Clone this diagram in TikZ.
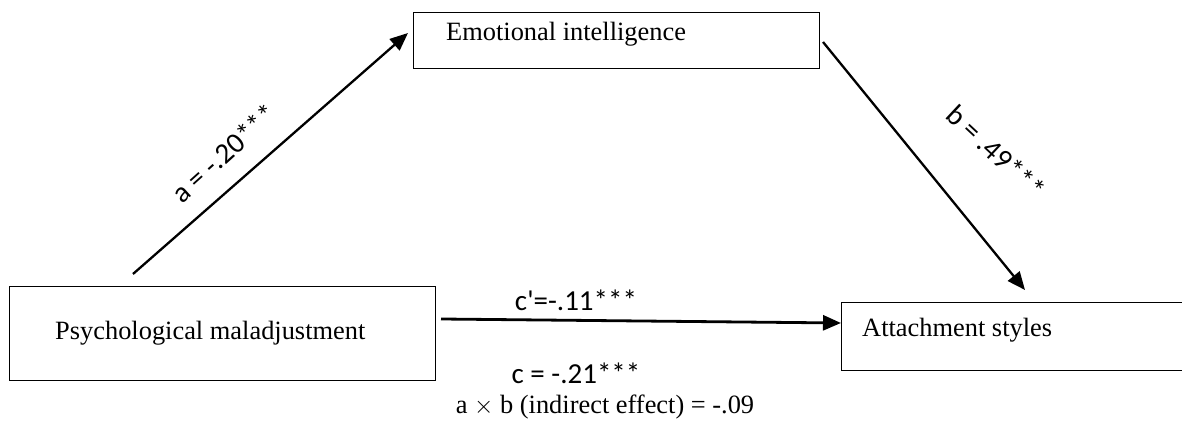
\documentclass[tikz,border=0pt]{standalone}
\usepackage{fontspec}
\setmainfont{Liberation Serif}
\newfontfamily\calfont{Carlito}
\usetikzlibrary{arrows.meta}
\begin{document}
\begin{tikzpicture}[x=1pt,y=1pt,
  boxstyle/.style={draw, line width=1.3pt, rectangle, inner sep=0pt},
  boxtext/.style={anchor=base west, inner sep=0pt, font=\fontsize{26.4}{30}\selectfont},
  pathlabel/.style={inner sep=0pt, font=\calfont\fontsize{29}{33}\selectfont},
  conn/.style={line width=2.3pt, -{Triangle[length=18pt,width=15pt]}}
]
\useasboundingbox (0,0) rectangle (1182,422);
% boxes
\node[boxstyle, minimum width=406pt, minimum height=56pt, anchor=north west] (ei) at (413,410) {};
\node[boxstyle, minimum width=426pt, minimum height=94pt, anchor=north west] (pm) at (9,136) {};
\node[boxstyle, minimum width=360pt, minimum height=68pt, anchor=north west] (as) at (841,120) {};
% box texts
\node[boxtext] (eit) at (446,381) {Emotional intelligence};
\node[boxtext] (pmt) at (55,82) {Psychological maladjustment};
\node[boxtext] (ast) at (862,85) {Attachment styles};
% connector end points
\coordinate (a1) at (133,148);
\coordinate (a2) at (408,389);
\coordinate (b1) at (823,380);
\coordinate (b2) at (1025,132);
\coordinate (c1) at (441,103);
% connectors
\draw[conn] (a1) -- (a2);
\draw[conn] (b1) -- (b2);
\draw[conn, line width=2.8pt] (c1) -- (as.west |- 0,99);
% labels
\node[pathlabel, rotate=42] (la) at (224,269) {a = -.20***};
\node[pathlabel, rotate=-43] (lb) at (996,270) {b = .49***};
\node[pathlabel, anchor=base] (lc1) at (576,111) {c'=-.11***};
\node[pathlabel, anchor=base] (lc) at (576,38) {c = -.21***};
\node[anchor=base, inner sep=0pt, font=\fontsize{26.4}{30}\selectfont] (lab) at (605,8) {a $\times$ b (indirect effect) = -.09};
\end{tikzpicture}
\end{document}
